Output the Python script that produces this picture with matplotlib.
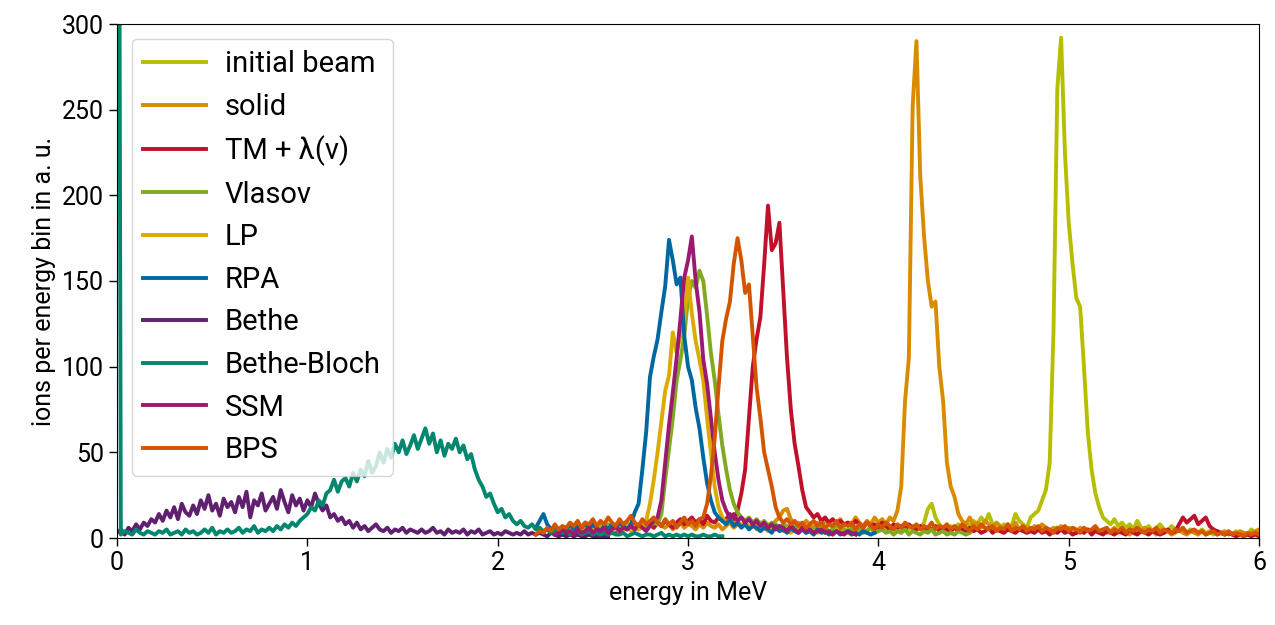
import numpy as np
import matplotlib
matplotlib.use('Agg')
import matplotlib.pyplot as plt

schritt = 0.02

initial_beam_start = 3.80
initial_beam = [
	4, 3, 5, 4, 6, 3, 5, 4, 7, 5,
	4, 6, 5, 7, 5, 6, 4, 6, 5, 7,
	5, 6, 9, 17, 20, 12, 8, 6, 5, 7,
	6, 8, 6, 9, 7, 10, 8, 12, 9, 14,
	8, 7, 6, 8, 5, 7, 14, 10, 8, 6,
	12, 14, 16, 22, 28, 44, 121, 262, 292, 225,
	184, 160, 140, 135, 100, 62, 40, 26, 18, 12,
	10, 8, 11, 7, 9, 6, 8, 5, 10, 6,
	5, 7, 4, 6, 8, 5, 4, 7, 5, 4,
	6, 3, 5, 4, 3, 5, 3, 4, 2, 4,
	3, 2, 3, 2, 4, 2, 3, 2, 5, 3,
	4]

solid_start = 2.30
solid = [
	3, 5, 4, 6, 5, 7, 4, 6, 8, 5,
	7, 6, 9, 5, 7, 6, 8, 5, 7, 9,
	6, 8, 6, 7, 5, 8, 6, 9, 7, 6,
	8, 5, 7, 9, 6, 8, 7, 5, 8, 6,
	9, 7, 6, 8, 5, 7, 9, 6, 8, 7,
	10, 6, 8, 7, 9, 6, 8, 7, 10, 12,
	16, 17, 11, 8, 9, 7, 10, 8, 6, 9,
	7, 10, 8, 6, 9, 11, 7, 9, 8, 12,
	9, 7, 10, 8, 12, 9, 11, 8, 12, 10,
	16, 30, 80, 105, 252, 290, 211, 176, 150, 135,
	138, 100, 80, 44, 30, 24, 14, 10, 8, 12,
	7, 9, 6, 10, 8, 6, 9, 7, 5, 8,
	6, 9, 5, 7, 6, 4, 7, 5, 8, 6,
	4, 6, 5, 7, 4, 6, 5, 3, 6, 4,
	5, 3, 6, 4, 5, 3, 4, 6, 3, 5,
	4, 2, 5, 3, 4, 6, 3, 4, 2, 5,
	3, 4, 2, 3, 5, 3, 2, 4, 3, 2,
	4, 2, 3, 5, 2, 3, 4, 2, 3, 2,
	4, 3, 2, 3, 4, 5]

tm_start = 2.40
tm = [
	2, 4, 3, 5, 3, 4, 6, 3, 5, 4,
	6, 4, 5, 7, 5, 6, 8, 5, 7, 6,
	8, 6, 9, 7, 10, 8, 6, 9, 11, 8,
	10, 12, 9, 11, 8, 13, 10, 9, 12, 10,
	11, 14, 10, 16, 26, 40, 70, 100, 116, 129,
	160, 194, 168, 172, 184, 145, 105, 75, 55, 42,
	28, 18, 15, 12, 14, 10, 12, 9, 11, 8,
	10, 8, 9, 7, 10, 8, 6, 9, 7, 8,
	6, 9, 7, 5, 8, 6, 7, 5, 8, 6,
	5, 7, 4, 6, 5, 7, 4, 6, 5, 4,
	6, 4, 5, 3, 6, 4, 5, 3, 4, 6,
	3, 5, 4, 3, 5, 4, 3, 5, 4, 3,
	4, 3, 5, 3, 4, 2, 4, 3, 5, 3,
	4, 2, 3, 4, 3, 5, 2, 4, 3, 2,
	4, 3, 2, 4, 3, 2, 5, 3, 2, 4,
	3, 2, 4, 3, 2, 3, 5, 3, 4, 8,
	12, 9, 11, 13, 8, 10, 12, 7, 5, 4,
	3, 2, 3, 2, 1, 2, 1, 2, 1, 2,
	1]

vlasov_start = 2.30
vlasov = [
	3, 5, 4, 6, 3, 5, 7, 4, 6, 5,
	7, 5, 6, 4, 8, 6, 5, 7, 6, 8,
	5, 7, 6, 8, 6, 7, 9, 8, 14, 34,
	52, 70, 92, 104, 118, 140, 150, 146, 156, 150,
	130, 108, 92, 72, 54, 40, 28, 20, 15, 12,
	10, 12, 9, 11, 8, 10, 7, 9, 8, 6,
	8, 7, 5, 8, 6, 7, 5, 6, 4, 7,
	5, 6, 4, 5, 7, 4, 5, 3, 6, 4,
	5, 3, 4, 6, 3, 4, 5, 3, 4, 2,
	4, 3, 5, 2, 4, 3, 2, 4, 3, 5,
	2, 3, 4, 2, 3, 2, 4, 3, 2, 3]

lp_start = 2.30
lp = [
	2, 4, 3, 5, 3, 4, 2, 5, 3, 4,
	5, 3, 6, 4, 5, 3, 6, 4, 5, 7,
	4, 6, 5, 7, 10, 20, 34, 50, 68, 86,
	95, 120, 108, 118, 128, 152, 131, 115, 104, 92,
	70, 50, 30, 18, 12, 9, 11, 8, 10, 7,
	8, 6, 9, 5, 7, 6, 4, 7, 5, 6,
	4, 6, 3, 5, 4, 6, 3, 5, 4, 3,
	5, 3, 4, 2, 5, 3, 4, 3, 2, 4]

rpa_start = 2.20
rpa = [
	6, 10, 14, 8, 5, 7, 4, 6, 5, 8,
	5, 7, 6, 9, 5, 8, 6, 4, 7, 5,
	8, 6, 9, 7, 5, 8, 15, 20, 40, 62,
	94, 106, 116, 132, 147, 174, 162, 148, 152, 118,
	100, 92, 76, 64, 47, 32, 22, 15, 12, 10,
	8, 11, 7, 9, 6, 8, 5, 7, 6, 4,
	6, 5, 3, 7, 4, 5, 3, 6, 4, 3,
	5, 3, 4, 2, 5, 3, 4, 2, 3, 4,
	2, 3, 4, 2, 3, 2, 4, 3, 2, 3]

bethe_start = 0.0
bethe = [
	3, 5, 2, 6, 4, 8, 5, 9, 7, 11,
	9, 14, 10, 16, 12, 18, 11, 20, 15, 13,
	19, 14, 22, 17, 25, 16, 20, 13, 23, 18,
	21, 15, 24, 18, 27, 12, 22, 19, 26, 16,
	20, 24, 17, 28, 21, 15, 25, 19, 23, 16,
	22, 18, 26, 20, 16, 19, 12, 14, 10, 12,
	8, 10, 6, 9, 5, 7, 4, 6, 8, 5,
	4, 6, 3, 5, 4, 6, 3, 5, 4, 3,
	5, 3, 4, 6, 3, 4, 2, 5, 3, 4,
	3, 5, 2, 4, 3, 5, 2, 3, 4, 2,
	3, 2, 4, 3, 2, 3, 2, 4, 2, 3,
	2, 3, 2, 1, 3, 2, 1, 2, 1, 2,
	1, 2, 1, 1, 2, 1, 1, 1, 1, 1]

bethe_bloch_start = 0.0
bethe_bloch = [
	900, 2, 4, 3, 2, 5, 3, 2, 4, 3,
	2, 4, 3, 5, 2, 3, 4, 2, 5, 3,
	4, 2, 3, 5, 3, 6, 2, 4, 3, 5,
	3, 4, 6, 3, 5, 4, 7, 3, 5, 4,
	6, 4, 7, 5, 8, 6, 9, 7, 10, 12,
	14, 18, 16, 22, 19, 26, 28, 34, 27, 33,
	35, 30, 38, 33, 40, 36, 45, 38, 42, 50,
	44, 52, 47, 55, 50, 57, 49, 54, 60, 52,
	58, 64, 55, 61, 50, 57, 48, 55, 52, 58,
	50, 54, 46, 49, 40, 34, 30, 24, 26, 20,
	15, 17, 12, 14, 10, 8, 10, 7, 6, 8,
	5, 6, 4, 5, 3, 4, 5, 3, 4, 2,
	3, 4, 2, 3, 4, 2, 3, 2, 3, 2,
	3, 2, 2, 3, 1, 2, 3, 2, 1, 2,
	2, 1, 2, 3, 1, 2, 1, 2, 1, 2,
	1, 2, 1, 1, 2, 1, 1, 2, 1, 1]

ssm_start = 2.30
ssm = [
	2, 3, 5, 3, 4, 2, 5, 3, 4, 6,
	3, 5, 4, 6, 3, 5, 7, 4, 6, 5,
	7, 5, 8, 6, 4, 7, 10, 12, 22, 44,
	66, 85, 105, 128, 152, 162, 176, 150, 132, 104,
	90, 70, 50, 34, 22, 16, 12, 14, 10, 12,
	9, 11, 8, 10, 7, 9, 6, 8, 5, 7,
	6, 4, 7, 5, 3, 6, 4, 5, 3, 4,
	5, 3, 4, 2, 4, 3, 2, 4, 3, 2]

bps_start = 2.20
bps = [
	2, 4, 3, 6, 4, 8, 5, 7, 6, 9,
	7, 10, 6, 9, 8, 11, 7, 10, 8, 12,
	9, 7, 11, 8, 10, 13, 9, 7, 11, 8,
	10, 12, 9, 7, 11, 8, 10, 6, 9, 12,
	8, 10, 7, 11, 12, 20, 36, 58, 88, 115,
	128, 138, 160, 175, 162, 143, 148, 118, 88, 70,
	50, 40, 30, 18, 12, 9, 11, 8, 10, 7,
	9, 6, 8, 10, 7, 9, 6, 8, 7, 10,
	6, 8, 7, 9, 5, 8, 6, 9, 7, 5,
	8, 6, 9, 7, 5, 8, 6, 9, 7, 6,
	8, 5, 7, 6, 9, 5, 7, 6, 8, 5,
	7, 5, 8, 6, 4, 7, 5, 8, 6, 5,
	7, 4, 6, 5, 8, 4, 6, 5, 7, 4,
	6, 5, 7, 4, 6, 5, 3, 6, 5, 7,
	4, 6, 5, 3, 6, 4, 5, 7, 4, 5,
	6, 3, 5, 4, 6, 3, 5, 4, 6, 4,
	3, 5, 4, 6, 3, 5, 4, 3, 5, 4,
	6, 3, 4, 5, 3, 4, 2, 3, 4, 2,
	3, 2, 4, 2, 3, 2, 1, 3, 2, 3,
	2]

namen = ['initial beam', 'solid', 'TM + λ(v)', 'Vlasov', 'LP', 'RPA',
	'Bethe', 'Bethe-Bloch', 'SSM', 'BPS']
farben = ['#b5bf00', '#d98c00', '#c0102a', '#80aa20', '#dcaa00', '#0068a1',
	'#611f70', '#00876e', '#9b1a70', '#d45500']


def Energien(start, werte):
	return start + schritt * np.arange(len(werte))


def main():
	plt.rcParams['font.family'] = ['Roboto', 'DejaVu Sans']
	plt.rcParams['font.size'] = 18

	reihen = [
		(initial_beam_start, initial_beam),
		(solid_start, solid),
		(tm_start, tm),
		(vlasov_start, vlasov),
		(lp_start, lp),
		(rpa_start, rpa),
		(bethe_start, bethe),
		(bethe_bloch_start, bethe_bloch),
		(ssm_start, ssm),
		(bps_start, bps),
	]

	fig, ax = plt.subplots(figsize=(12.75, 6.25), dpi=100)
	fig.subplots_adjust(left=0.0918, right=0.9875, top=0.9616, bottom=0.1392)

	for (start, werte), name, farbe in zip(reihen, namen, farben):
		ax.plot(Energien(start, werte), werte, color=farbe, lw=2.8, label=name)

	ax.set_xlim(0, 6)
	ax.set_ylim(0, 300)
	ax.set_xticks(range(0, 7))
	ax.set_yticks(range(0, 301, 50))
	ax.tick_params(direction='out', length=6, width=1, labelsize=18,
		top=False, right=False)
	ax.set_xlabel('energy in MeV', fontsize=18)
	ax.set_ylabel('ions per energy bin in a. u.', fontsize=18)

	ax.legend(loc='upper left', fontsize=21, framealpha=0.8, handlelength=2.15,
		handletextpad=0.65)

	fig.savefig('out.png', dpi=100)


if __name__ == "__main__":
	main()
